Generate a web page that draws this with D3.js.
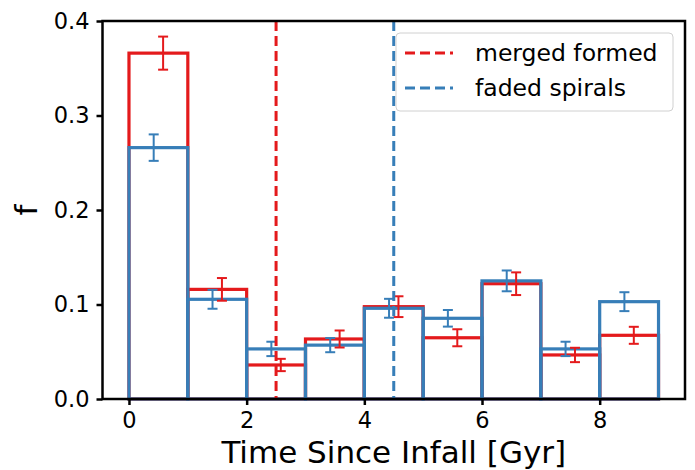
<!DOCTYPE html>
<html>
<head>
<meta charset="utf-8">
<script src="https://cdn.jsdelivr.net/npm/d3@7"></script>
<style>
  html, body { margin: 0; padding: 0; background: #fff; }
  svg { display: block; font-family: "DejaVu Sans", sans-serif; }
</style>
</head>
<body>
<svg id="chart" width="695" height="470"></svg>
<script>
// ---- data ----
const binStarts = [0, 1, 2, 3, 4, 5, 6, 7, 8];
const binWidth = 1;
const mergedValues = [0.366, 0.116, 0.036, 0.0635, 0.0977, 0.0648, 0.122, 0.0466, 0.0674];
const mergedErrors = [0.0175, 0.012, 0.0065, 0.009, 0.011, 0.009, 0.012, 0.0076, 0.009];
const fadedValues = [0.266, 0.1055, 0.053, 0.057, 0.096, 0.0854, 0.125, 0.053, 0.103];
const fadedErrors = [0.014, 0.010, 0.0076, 0.0075, 0.010, 0.0088, 0.011, 0.0076, 0.010];
const mergedLine = 2.5;
const fadedLine = 4.5;
const xTicks = [0, 2, 4, 6, 8];
const yTicks = [0.0, 0.1, 0.2, 0.3, 0.4];
const legendLabels = ["merged formed", "faded spirals"];
const xLabel = "Time Since Infall [Gyr]";
const yLabel = "f";

// ---- layout ----
const RED = "#e41a1c", BLUE = "#377eb8";
const pLeft = 102.5, pRight = 685, pTop = 21, pBottom = 399;
const x = d3.scaleLinear().domain([-0.45, 9.45]).range([pLeft, pRight]);
const y = d3.scaleLinear().domain([0, 0.4]).range([pBottom, pTop]);
const svg = d3.select("#chart");

const series = [
  {name: legendLabels[0], color: RED, values: mergedValues, errors: mergedErrors, off: 0.08},
  {name: legendLabels[1], color: BLUE, values: fadedValues, errors: fadedErrors, off: -0.08}
];

const plot = svg.append("g");

// bars (outlined rectangles)
series.forEach(s => {
  plot.append("g").selectAll("rect").data(binStarts).join("rect")
    .attr("x", d => x(d))
    .attr("y", (d, i) => y(s.values[i]))
    .attr("width", d => x(d + binWidth) - x(d))
    .attr("height", (d, i) => y(0) - y(s.values[i]))
    .attr("fill", "none")
    .attr("stroke", s.color)
    .attr("stroke-width", 3.2);
});

// error bars
series.forEach(s => {
  const g = plot.append("g").attr("stroke", s.color).attr("stroke-width", 2);
  binStarts.forEach((d, i) => {
    const cx = x(d + binWidth / 2 + s.off);
    const y1 = y(s.values[i] + s.errors[i]);
    const y2 = y(s.values[i] - s.errors[i]);
    g.append("line").attr("x1", cx).attr("x2", cx).attr("y1", y1).attr("y2", y2);
    g.append("line").attr("x1", cx - 5).attr("x2", cx + 5).attr("y1", y1).attr("y2", y1);
    g.append("line").attr("x1", cx - 5).attr("x2", cx + 5).attr("y1", y2).attr("y2", y2);
  });
});

// vertical dashed lines
[[mergedLine, RED], [fadedLine, BLUE]].forEach(([v, c]) => {
  plot.append("line")
    .attr("x1", x(v)).attr("x2", x(v))
    .attr("y1", pTop).attr("y2", pBottom)
    .attr("stroke", c).attr("stroke-width", 3)
    .attr("stroke-dasharray", "10,5");
});

// axes
const fontSize = 22.5;
const xAxis = d3.axisBottom(x).tickValues(xTicks).tickFormat(d3.format("d")).tickSize(6).tickPadding(7);
const yAxis = d3.axisLeft(y).tickValues(yTicks).tickFormat(d3.format(".1f")).tickSize(6).tickPadding(7);
const gx = svg.append("g").attr("transform", `translate(0,${pBottom})`).call(xAxis);
const gy = svg.append("g").attr("transform", `translate(${pLeft},0)`).call(yAxis);
[gx, gy].forEach(g => {
  g.select(".domain").remove();
  g.selectAll(".tick line").attr("stroke", "#000").attr("stroke-width", 2.5);
  g.selectAll(".tick text").attr("fill", "#000").style("font-size", fontSize + "px")
    .style("font-family", "'DejaVu Sans', sans-serif");
});

// frame
svg.append("rect")
  .attr("x", pLeft).attr("y", pTop)
  .attr("width", pRight - pLeft).attr("height", pBottom - pTop)
  .attr("fill", "none").attr("stroke", "#000").attr("stroke-width", 2.5);

// axis labels
svg.append("text")
  .attr("x", (pLeft + pRight) / 2).attr("y", 463)
  .attr("text-anchor", "middle")
  .style("font-size", "31px")
  .text(xLabel);
svg.append("text")
  .attr("transform", `translate(37,${(pTop + pBottom) / 2}) rotate(-90)`)
  .attr("text-anchor", "middle")
  .style("font-size", "31px")
  .text(yLabel);

// legend
const lg = svg.append("g");
lg.append("rect")
  .attr("x", 396).attr("y", 33).attr("width", 277).attr("height", 78)
  .attr("rx", 4).attr("fill", "#fff").attr("fill-opacity", 0.8)
  .attr("stroke", "#d0d0d0").attr("stroke-width", 1);
series.forEach((s, i) => {
  const ly = 53 + i * 35;
  lg.append("line").attr("x1", 405).attr("x2", 453).attr("y1", ly).attr("y2", ly)
    .attr("stroke", s.color).attr("stroke-width", 3).attr("stroke-dasharray", "10,5");
  lg.append("text").attr("x", 475).attr("y", ly).attr("dy", "0.35em")
    .style("font-size", "23.5px").text(s.name);
});
</script>
</body>
</html>
